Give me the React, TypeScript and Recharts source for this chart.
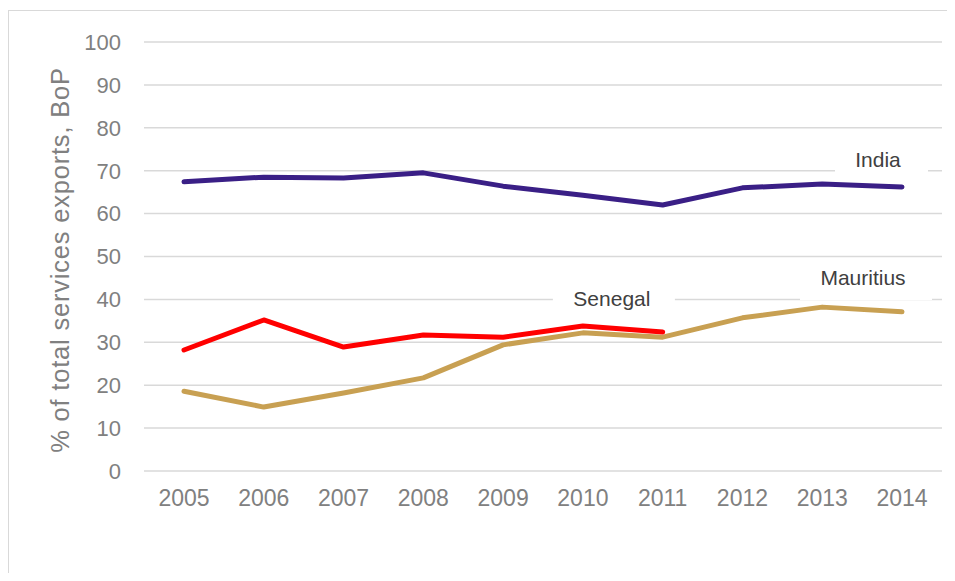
import React from 'react';
import { LineChart, Line, XAxis, YAxis, CartesianGrid, ReferenceDot } from 'recharts';

const years = ['2005', '2006', '2007', '2008', '2009', '2010', '2011', '2012', '2013', '2014'];
const india = [67.4, 68.5, 68.3, 69.5, 66.4, 64.3, 62.0, 66.0, 66.9, 66.2];
const senegal: (number | null)[] = [28.2, 35.2, 28.9, 31.7, 31.2, 33.8, 32.4, null, null, null];
const mauritius = [18.6, 14.9, 18.2, 21.7, 29.4, 32.2, 31.2, 35.7, 38.2, 37.1];
const yTicks = [0, 10, 20, 30, 40, 50, 60, 70, 80, 90, 100];

const titleText = 'Figure 3: ICT-enabled services as % of total services exports, 2005\u20132014';
const yAxisTitle = '% of total services exports, BoP';

const data = years.map((year, i) => ({
  year,
  India: india[i],
  Senegal: senegal[i],
  Mauritius: mauritius[i],
}));

const FONT = '"Liberation Sans", Arial, Helvetica, sans-serif';

function makeLabel(text: string, dx: number, bx0: number, bx1: number, by0: number, by1: number) {
  return (props: any) => {
    const { cx, cy } = props;
    return (
      <g>
        <rect x={cx + bx0} y={cy + by0} width={bx1 - bx0} height={by1 - by0} fill="#ffffff" />
        <text
          x={cx + dx}
          y={cy}
          textAnchor="middle"
          dominantBaseline="central"
          fontSize={21}
          fill="#404040"
          fontFamily={FONT}
        >
          {text}
        </text>
      </g>
    );
  };
}

const YTitle = () => (
  <text
    x={0}
    y={0}
    transform="translate(69, 260) rotate(-90)"
    textAnchor="middle"
    fontSize={25.5}
    letterSpacing={0.8}
    fill="#808080"
    fontFamily={FONT}
  >
    {yAxisTitle}
  </text>
);

export default function App() {
  return (
    <div
      style={{
        position: 'relative',
        width: 955,
        height: 581,
        margin: -8,
        overflow: 'hidden',
        background: '#ffffff',
        fontFamily: FONT,
      }}
    >
      <div
        style={{
          position: 'absolute',
          left: 8,
          top: 10,
          width: 980,
          height: 600,
          border: '1px solid #d9d9d9',
          boxSizing: 'border-box',
        }}
      />
      <div style={{ position: 'absolute', left: 0, top: 0 }}>
        <LineChart
          width={955}
          height={581}
          data={data}
          margin={{ top: 42, right: 13, bottom: 80, left: 0 }}
        >
          <CartesianGrid vertical={false} stroke="#d9d9d9" strokeWidth={1.5} />
          <XAxis
            dataKey="year"
            axisLine={false}
            tickLine={false}
            tickSize={0}
            tickMargin={19}
            padding={{ left: 40, right: 40 }}
            interval={0}
            tick={{ fontSize: 23, fill: '#808080', fontFamily: FONT }}
          />
          <YAxis
            width={144}
            domain={[0, 100]}
            ticks={yTicks}
            interval={0}
            axisLine={false}
            tickLine={false}
            tickSize={0}
            tickMargin={23}
            tick={{ fontSize: 22, fill: '#808080', fontFamily: FONT }}
            label={<YTitle />}
          />
          <Line
            type="linear"
            dataKey="Mauritius"
            stroke="#c8a052"
            strokeWidth={5}
            dot={false}
            strokeLinecap="round"
            strokeLinejoin="round"
            isAnimationActive={false}
          />
          <Line
            type="linear"
            dataKey="Senegal"
            stroke="#ff0000"
            strokeWidth={5}
            dot={false}
            strokeLinecap="round"
            strokeLinejoin="round"
            isAnimationActive={false}
          />
          <Line
            type="linear"
            dataKey="India"
            stroke="#3a1f86"
            strokeWidth={5}
            dot={false}
            strokeLinecap="round"
            strokeLinejoin="round"
            isAnimationActive={false}
          />
          <ReferenceDot x="2014" y={72.5} shape={makeLabel('India', -24, -67, 26, -14, 14)} />
          <ReferenceDot x="2010" y={40.3} shape={makeLabel('Senegal', 29, -30, 92, -13, 10)} />
          <ReferenceDot x="2014" y={45.2} shape={makeLabel('Mauritius', -39, -102, 30, -15, 23)} />
        </LineChart>
      </div>
      <svg
        width={955}
        height={9}
        style={{ position: 'absolute', left: 0, top: 0, overflow: 'hidden' }}
      >
        <text x={16} y={0.5} fontSize={25} fontWeight="bold" fill="#33197a" fontFamily={FONT}>
          {titleText}
        </text>
      </svg>
    </div>
  );
}
